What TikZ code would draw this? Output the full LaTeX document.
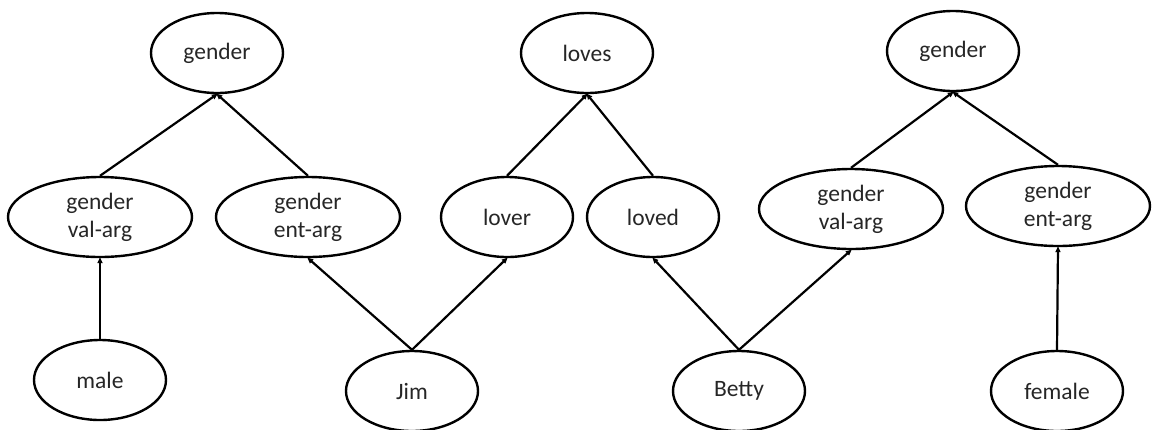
\documentclass[tikz,border=0pt]{standalone}
\usepackage{fontspec}
\setmainfont{Carlito}
\usetikzlibrary{shapes.geometric,arrows.meta}
\tikzset{
  concept/.style={ellipse, draw, line width=2.4bp, inner sep=0pt,
    minimum width=132bp, minimum height=80bp, align=center,
    font=\fontsize{23.5bp}{28bp}\selectfont, text=black!85},
  wideconcept/.style={concept, minimum width=184bp},
  link/.style={line width=2.2bp, -{Triangle[length=6bp,width=5bp]}, shorten >=-1bp}
}
\begin{document}
\begin{tikzpicture}[x=1bp,y=-1bp]
\useasboundingbox (0,0) rectangle (1152,429);
% top row
\node[concept] (genL) at (217,53) {gender};
\node[concept] (loves) at (587,53) {loves};
\node[concept] (genR) at (953,51) {gender};
% middle row
\node[wideconcept] (valL) at (100,217) {gender\\val-arg};
\node[wideconcept] (entL) at (308,217) {gender\\ent-arg};
\node[concept] (lover) at (507,217) {lover};
\node[concept] (loved) at (653,217) {loved};
\node[wideconcept] (valR) at (851,209) {gender\\val-arg};
\node[wideconcept] (entR) at (1058,206) {gender\\ent-arg};
% bottom row
\node[concept] (male) at (100,380) {male};
\node[concept] (jim) at (412,391) {Jim};
\node[concept] (betty) at (739,391) {Betty};
\node[concept] (female) at (1057,391) {female};
% connectors
\draw[link] (valL.north) -- (genL.south);
\draw[link] (entL.north) -- (genL.south);
\draw[link] (lover.north) -- (loves.south);
\draw[link] (loved.north) -- (loves.south);
\draw[link] (valR.north) -- (genR.south);
\draw[link] (entR.north) -- (genR.south);
\draw[link] (male.north) -- (valL.south);
\draw[link] (jim.north) -- (entL.south);
\draw[link] (jim.north) -- (lover.south);
\draw[link] (betty.north) -- (loved.south);
\draw[link] (betty.north) -- (valR.south);
\draw[link] (female.north) -- (entR.south);
\end{tikzpicture}
\end{document}
